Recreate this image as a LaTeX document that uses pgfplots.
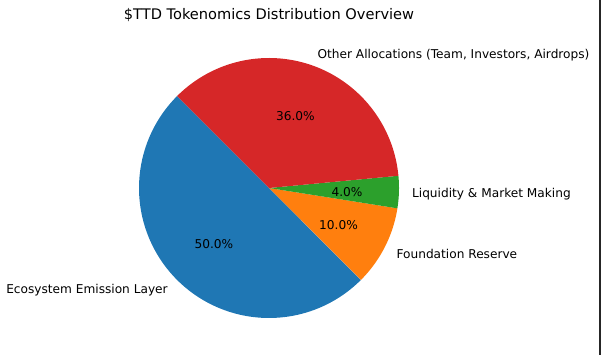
\documentclass[border=0pt]{standalone}
\usepackage{pgfplots}
\pgfplotsset{compat=1.18}
\usepackage{fontspec}
\setmainfont{DejaVu Sans}
\definecolor{tabblue}{HTML}{1F77B4}
\definecolor{taborange}{HTML}{FF7F0E}
\definecolor{tabgreen}{HTML}{2CA02C}
\definecolor{tabred}{HTML}{D62728}
\def\cx{269}\def\cy{167}\def\R{130}
% \slice{start angle}{value (percent)}{colour}{label}{label anchor}
\newcommand{\slice}[5]{%
  \pgfmathsetmacro{\aS}{#1}%
  \pgfmathsetmacro{\aE}{#1+3.6*#2}%
  \pgfmathsetmacro{\aM}{#1+1.8*#2}%
  \addplot[fill=#3, draw=none, domain=\aS:\aE, samples=90, variable=\t]
    ({\cx+\R*cos(\t)},{\cy+\R*sin(\t)}) -- (axis cs:\cx,\cy) -- cycle;
  \edef\tmp{\noexpand\node[anchor=center,inner sep=0pt,font=\noexpand\fontsize{12.2}{14}\noexpand\selectfont] at (axis cs:{\cx+0.6*\R*cos(\aM)},{\cy-1.3+0.6*\R*sin(\aM)}) {\noexpand\pgfmathprintnumber[fixed,fixed zerofill,precision=1,assume math mode=true]{#2}\noexpand\%};}\tmp
  \edef\tmp{\noexpand\node[anchor=#5,inner sep=0pt,font=\noexpand\fontsize{12.2}{14}\noexpand\selectfont] at (axis cs:{\cx+1.1*\R*cos(\aM)},{\cy-1.3+1.1*\R*sin(\aM)}) {\noexpand#4};}\tmp
}
\begin{document}
\begin{tikzpicture}
\begin{axis}[
  at={(0,0)}, anchor=south west,
  scale only axis, width=601bp, height=355bp,
  xmin=0, xmax=601, ymin=0, ymax=355,
  hide axis, clip=false,
]
\path (rel axis cs:0,0) rectangle (rel axis cs:1,1);
\slice{135}{50}{tabblue}{Ecosystem Emission Layer}{east}
\slice{315}{10}{taborange}{Foundation Reserve}{west}
\slice{351}{4}{tabgreen}{Liquidity \& Market Making}{west}
\slice{365.4}{36}{tabred}{Other Allocations (Team, Investors, Airdrops)}{west}
\node[font=\fontsize{14.65}{17}\selectfont, anchor=center, inner sep=0pt] at (axis cs:269,339.8) {\$TTD Tokenomics Distribution Overview};
\fill[black!85] (axis cs:598.5,0) rectangle (axis cs:601,355);
\end{axis}
\end{tikzpicture}
\end{document}
